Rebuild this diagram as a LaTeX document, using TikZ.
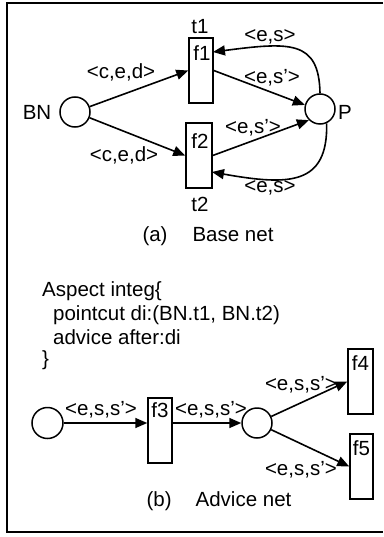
\documentclass[tikz,border=0pt]{standalone}
\usepackage{fontspec}
\setmainfont{Liberation Sans}
\usetikzlibrary{arrows.meta}
\begin{document}
\begin{tikzpicture}[x=1pt,y=1pt,
  font=\fontsize{20.5}{24}\selectfont,
  place/.style={circle,draw,line width=1.5pt,minimum size=30pt,inner sep=0pt},
  trans/.style={rectangle,draw,line width=1.5pt,inner sep=0pt,minimum height=65pt},
  arc/.style={line width=1.6pt,-{Triangle[length=12pt,width=10pt]}},
  lbl/.style={inner sep=0pt}]
\useasboundingbox (0,0) rectangle (383,-537);
\draw[line width=2pt] (383,-3) -- (7,-3) -- (7,-532) -- (383,-532);
% (a) base net
\node[place] (BN) at (75,-112) {};
\node[place] (P) at (320,-109) {};
\node[trans,minimum width=24pt] (t1) at (201,-70.5) {};
\node[trans,minimum width=26pt] (t2) at (199,-155.5) {};
\node[lbl] (BNl) at (37,-112) {BN};
\node[lbl] (Pl) at (345,-112) {P};
\node[lbl] (t1l) at (200,-27) {t1};
\node[lbl] (t2l) at (200,-204) {t2};
\node[lbl] (f1l) at (202,-53) {f1};
\node[lbl] (f2l) at (200,-141) {f2};
\draw[arc] (BN) -- (t1.west);
\draw[arc] (BN) -- (t2.west);
\draw[arc] (t1.east) -- (P.165);
\draw[arc] (t2.east) -- (P.225);
\coordinate (t1in) at (213,-52);
\coordinate (t2in) at (212,-172);
\draw[arc] (P.north) .. controls (319,-40) and (290,-42) .. (t1in);
\draw[arc] (P.-65) .. controls (328,-185) and (290,-186) .. (t2in);
\node[lbl] (a1) at (121,-72) {<c,e,d>};
\node[lbl] (a2) at (124,-155) {<c,e,d>};
\node[lbl] (a3) at (270,-37) {<e,s>};
\node[lbl] (a4) at (272,-78) {<e,s'>};
\node[lbl] (a5) at (253,-128) {<e,s'>};
\node[lbl] (a6) at (270,-188) {<e,s>};
\node[lbl] (capa) at (208,-236) {(a)\hspace{25pt}Base net};
% aspect text
\node[lbl,anchor=west] (as1) at (42,-291) {Aspect integ\{};
\node[lbl,anchor=west] (as2) at (53,-315) {pointcut di:(BN.t1, BN.t2)};
\node[lbl,anchor=west] (as3) at (53,-337) {advice after:di};
\node[lbl,anchor=west] (as4) at (42,-360) {\}};
% (b) advice net
\node[place,minimum size=31pt] (c1) at (47.5,-423) {};
\node[trans,minimum width=24pt] (f3) at (160,-430.5) {};
\node[place] (c2) at (257,-423) {};
\node[trans,minimum width=25pt] (f4) at (360.5,-381.5) {};
\node[trans,minimum width=23pt] (f5) at (361.5,-466.5) {};
\node[lbl] (f3l) at (160,-410) {f3};
\node[lbl] (f4l) at (360.5,-363) {f4};
\node[lbl] (f5l) at (361.5,-448) {f5};
\draw[arc] (c1.east) -- (c1.east -| f3.west);
\draw[arc] (c1.east -| f3.east) -- (c2.west);
\draw[arc] (c2) -- (f4.west);
\draw[arc] (c2) -- (f5.west);
\node[lbl] (b1) at (101,-410) {<e,s,s'>};
\node[lbl] (b2) at (211,-410) {<e,s,s'>};
\node[lbl,anchor=east] (b3) at (337,-385) {<e,s,s'>};
\node[lbl,anchor=east] (b4) at (337,-470) {<e,s,s'>};
\node[lbl] (capb) at (219,-501) {(b)\hspace{24pt}Advice net};
\end{tikzpicture}
\end{document}
